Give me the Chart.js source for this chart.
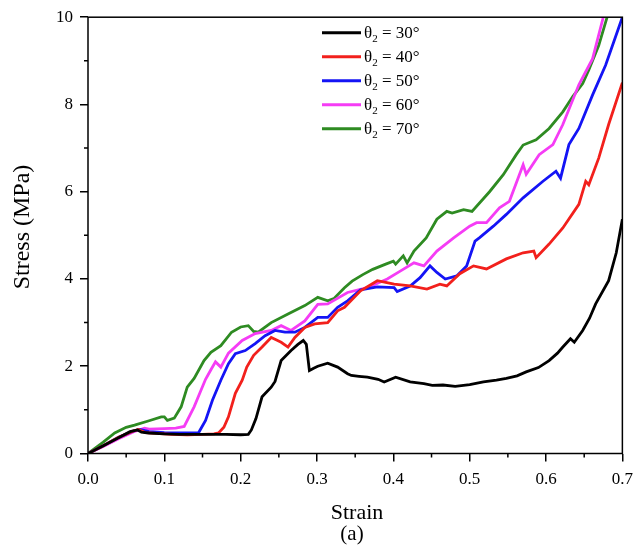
<!DOCTYPE html>
<html>
<head>
<meta charset="utf-8">
<script src="https://cdn.jsdelivr.net/npm/chart.js@4"></script>
<style>
html,body{margin:0;padding:0;background:#fff;}
#wrap{width:641px;height:549px;position:relative;}
</style>
</head>
<body>
<div id="wrap"><canvas id="c" width="641" height="549"></canvas></div>
<script>
// ---- data ----
const angles = [30, 40, 50, 60, 70];
const colors = ['#000000', '#f2201c', '#1414f5', '#f53cf5', '#2e8b22'];

const strain30 = [0,0.02,0.04,0.055,0.065,0.07,0.08,0.1,0.12,0.15,0.18,0.2,0.21,0.214,0.22,0.228,0.24,0.245,0.253,0.266,0.275,0.282,0.286,0.29,0.295,0.301,0.314,0.327,0.34,0.345,0.355,0.366,0.38,0.388,0.403,0.422,0.44,0.451,0.465,0.481,0.5,0.518,0.535,0.548,0.562,0.574,0.59,0.604,0.615,0.622,0.632,0.637,0.648,0.657,0.665,0.682,0.692,0.7];
const stress30 = [0,0.18,0.36,0.5,0.54,0.49,0.47,0.45,0.44,0.44,0.44,0.43,0.44,0.54,0.8,1.3,1.52,1.65,2.13,2.36,2.5,2.59,2.5,1.9,1.95,2.0,2.07,1.98,1.83,1.79,1.77,1.75,1.7,1.64,1.75,1.64,1.6,1.56,1.57,1.54,1.58,1.64,1.68,1.72,1.78,1.87,1.97,2.13,2.3,2.44,2.63,2.55,2.82,3.1,3.43,3.96,4.6,5.37];

const strain40 = [0,0.02,0.04,0.06,0.066,0.075,0.09,0.11,0.13,0.15,0.165,0.171,0.178,0.184,0.193,0.202,0.208,0.217,0.228,0.24,0.247,0.253,0.262,0.271,0.284,0.297,0.314,0.327,0.336,0.357,0.379,0.39,0.401,0.422,0.444,0.461,0.47,0.487,0.505,0.522,0.548,0.57,0.584,0.587,0.604,0.622,0.643,0.652,0.656,0.669,0.682,0.7];
const stress40 = [0,0.18,0.37,0.52,0.55,0.48,0.46,0.44,0.43,0.44,0.45,0.47,0.6,0.84,1.38,1.68,1.98,2.25,2.44,2.66,2.6,2.55,2.44,2.66,2.89,2.97,3.0,3.27,3.35,3.73,3.96,3.92,3.88,3.84,3.77,3.88,3.84,4.12,4.3,4.23,4.46,4.6,4.64,4.49,4.8,5.17,5.71,6.24,6.16,6.77,7.54,8.5];

const strain50 = [0,0.02,0.04,0.06,0.068,0.08,0.1,0.12,0.145,0.154,0.163,0.174,0.184,0.193,0.206,0.219,0.232,0.245,0.258,0.271,0.284,0.301,0.314,0.327,0.34,0.357,0.379,0.401,0.405,0.422,0.435,0.448,0.457,0.468,0.483,0.496,0.507,0.513,0.531,0.548,0.57,0.596,0.613,0.619,0.63,0.643,0.661,0.678,0.7];
const stress50 = [0,0.18,0.37,0.52,0.55,0.5,0.48,0.47,0.48,0.76,1.22,1.68,2.06,2.29,2.36,2.52,2.7,2.82,2.78,2.78,2.89,3.12,3.12,3.35,3.5,3.75,3.82,3.8,3.71,3.84,4.03,4.3,4.15,4.0,4.07,4.3,4.87,4.95,5.21,5.48,5.86,6.24,6.47,6.31,7.08,7.45,8.22,8.9,10.0];

const strain60 = [0,0.02,0.04,0.06,0.074,0.08,0.1,0.115,0.126,0.139,0.148,0.154,0.161,0.167,0.174,0.184,0.202,0.219,0.24,0.253,0.266,0.284,0.301,0.314,0.34,0.366,0.392,0.409,0.427,0.44,0.457,0.479,0.5,0.509,0.522,0.539,0.552,0.57,0.574,0.591,0.609,0.622,0.643,0.652,0.661,0.675];
const stress60 = [0,0.16,0.34,0.5,0.58,0.56,0.57,0.58,0.62,1.07,1.45,1.7,1.92,2.1,1.98,2.3,2.59,2.75,2.82,2.93,2.82,3.04,3.42,3.43,3.69,3.8,4.0,4.18,4.37,4.3,4.64,4.94,5.21,5.29,5.29,5.63,5.78,6.62,6.4,6.85,7.08,7.54,8.45,8.75,9.05,10.0];

const strain70 = [0,0.02,0.035,0.05,0.061,0.08,0.096,0.1,0.104,0.113,0.122,0.13,0.139,0.152,0.161,0.174,0.188,0.2,0.21,0.217,0.223,0.24,0.262,0.284,0.301,0.314,0.322,0.336,0.346,0.36,0.373,0.39,0.4,0.403,0.413,0.418,0.427,0.443,0.457,0.47,0.477,0.492,0.503,0.526,0.544,0.561,0.57,0.587,0.604,0.622,0.635,0.648,0.656,0.669,0.68];
const stress70 = [0,0.26,0.47,0.6,0.65,0.75,0.84,0.84,0.76,0.81,1.07,1.52,1.72,2.13,2.32,2.47,2.78,2.9,2.93,2.8,2.78,3.0,3.2,3.39,3.58,3.5,3.55,3.8,3.95,4.1,4.22,4.34,4.41,4.34,4.53,4.37,4.64,4.94,5.37,5.55,5.51,5.59,5.55,6.0,6.39,6.85,7.07,7.19,7.45,7.83,8.18,8.48,8.79,9.35,10.0];

const xTicks = [0, 0.1, 0.2, 0.3, 0.4, 0.5, 0.6, 0.7];
const yTicks = [0, 2, 4, 6, 8, 10];
const xTitle = 'Strain';
const yTitle = 'Stress (MPa)';
const panelLabel = '(a)';

// ---- build ----
const strains = [strain30, strain40, strain50, strain60, strain70];
const stresses = [stress30, stress40, stress50, stress60, stress70];
const datasets = angles.map((a, i) => ({
  label: 'θ2 = ' + a + '°',
  data: strains[i].map((x, j) => ({x: x, y: stresses[i][j]})),
  borderColor: colors[i],
  backgroundColor: colors[i],
  borderWidth: 2.8,
  pointRadius: 0,
  tension: 0,
  fill: false
}));

const SERIF = '"Liberation Serif", "Times New Roman", serif';

const decor = {
  id: 'decor',
  afterDraw(chart) {
    const ctx = chart.ctx;
    const a = chart.chartArea;
    const xs = chart.scales.x, ys = chart.scales.y;
    ctx.save();
    // frame
    ctx.strokeStyle = '#000';
    ctx.lineWidth = 1.5;
    ctx.strokeRect(a.left, a.top, a.right - a.left, a.bottom - a.top);
    // minor ticks
    ctx.lineWidth = 1.5;
    ctx.beginPath();
    for (let k = 0; k < xTicks.length - 1; k++) {
      const v = (xTicks[k] + xTicks[k + 1]) / 2;
      const px = xs.getPixelForValue(v);
      ctx.moveTo(px, a.bottom); ctx.lineTo(px, a.bottom + 4);
    }
    for (let k = 0; k < yTicks.length - 1; k++) {
      const v = (yTicks[k] + yTicks[k + 1]) / 2;
      const py = ys.getPixelForValue(v);
      ctx.moveTo(a.left, py); ctx.lineTo(a.left - 4, py);
    }
    ctx.stroke();
    // axis titles
    ctx.fillStyle = '#000';
    ctx.textAlign = 'center';
    ctx.textBaseline = 'alphabetic';
    ctx.font = '22px ' + SERIF;
    ctx.fillText(xTitle, 357, 519);
    ctx.font = '21px ' + SERIF;
    ctx.fillText(panelLabel, 352, 540);
    ctx.save();
    ctx.translate(23, 227);
    ctx.rotate(-Math.PI / 2);
    ctx.font = '24px ' + SERIF;
    ctx.textBaseline = 'middle';
    ctx.fillText(yTitle, 0, 0);
    ctx.restore();
    // legend
    ctx.textAlign = 'left';
    ctx.textBaseline = 'alphabetic';
    chart.data.datasets.forEach((ds, i) => {
      const y = 32.7 + 24 * i;
      ctx.strokeStyle = ds.borderColor;
      ctx.lineWidth = 3;
      ctx.beginPath();
      ctx.moveTo(322, y); ctx.lineTo(361, y);
      ctx.stroke();
      ctx.fillStyle = '#000';
      let x = 364;
      ctx.font = '17px ' + SERIF;
      ctx.fillText('θ', x, y + 5);
      x += ctx.measureText('θ').width;
      ctx.font = '11px ' + SERIF;
      ctx.fillText('2', x, y + 9);
      x += ctx.measureText('2').width;
      ctx.font = '17px ' + SERIF;
      ctx.fillText(' = ' + angles[i] + '°', x, y + 5);
    });
    ctx.restore();
  }
};

new Chart(document.getElementById('c'), {
  type: 'line',
  data: { datasets: datasets },
  options: {
    responsive: false,
    animation: false,
    devicePixelRatio: 1,
    layout: { padding: { left: 0, right: 14, top: 15, bottom: 0 } },
    plugins: { legend: { display: false }, tooltip: { enabled: false } },
    scales: {
      x: {
        type: 'linear', min: 0, max: 0.7,
        afterBuildTicks(s) { s.ticks = xTicks.map(v => ({value: v})); },
        afterFit(s) { s.height = 95.5; },
        border: { display: false },
        grid: { drawOnChartArea: false, drawTicks: true, tickLength: 8, color: '#000', lineWidth: 1.5 },
        ticks: { color: '#000', font: { family: SERIF, size: 17 }, padding: 8, maxRotation: 0,
                 callback: v => Number(v).toFixed(1) }
      },
      y: {
        type: 'linear', min: 0, max: 10,
        afterBuildTicks(s) { s.ticks = yTicks.map(v => ({value: v})); },
        afterFit(s) { s.width = 88; },
        border: { display: false },
        grid: { drawOnChartArea: false, drawTicks: true, tickLength: 8, color: '#000', lineWidth: 1.5 },
        ticks: { color: '#000', font: { family: SERIF, size: 17 }, padding: 7,
                 callback: v => String(v) }
      }
    }
  },
  plugins: [decor]
});
</script>
</body>
</html>
